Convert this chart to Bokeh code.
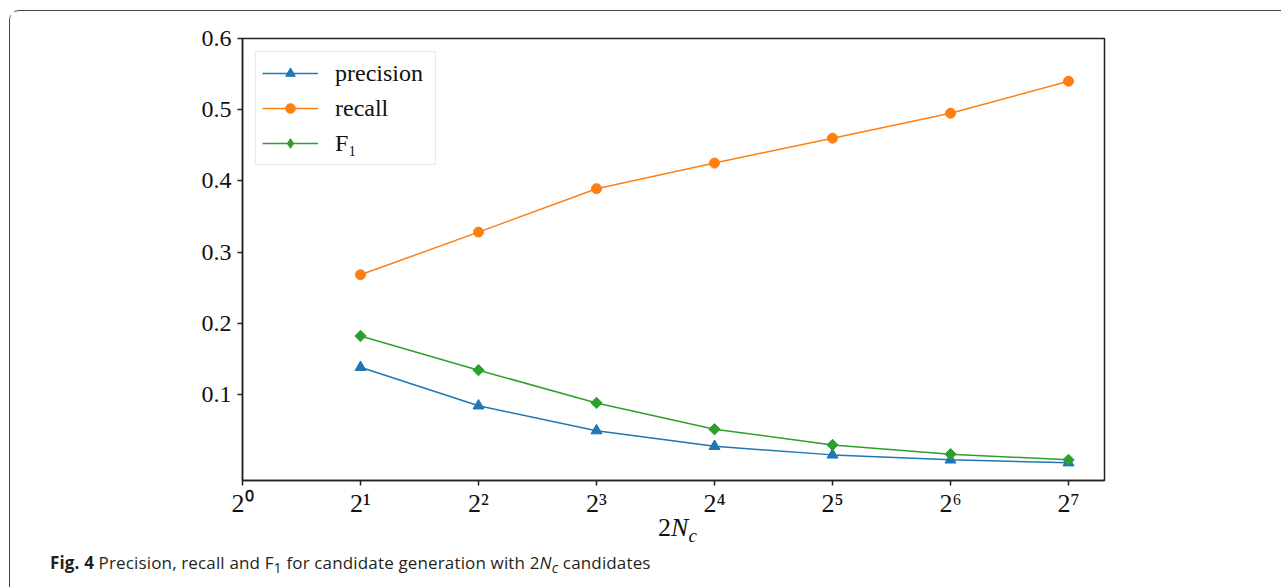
import math
from bokeh.plotting import figure
from bokeh.models import Range1d, FixedTicker, Div, Legend, LegendItem
from bokeh.layouts import column
from bokeh.embed import file_html
from bokeh.resources import INLINE

# ---------------- data ----------------
exponents = [1, 2, 3, 4, 5, 6, 7]
candidates = [2 ** e for e in exponents]          # 2N_c
precision = [0.138, 0.084, 0.049, 0.027, 0.015, 0.008, 0.004]
recall = [0.268, 0.328, 0.389, 0.425, 0.460, 0.495, 0.540]
f1 = [0.182, 0.134, 0.088, 0.051, 0.029, 0.016, 0.008]
series_names = ["precision", "recall", "F\u2081"]
series_colors = ["#1f77b4", "#ff7f0e", "#2ca02c"]

x_ticks = [1, 2, 4, 8, 16, 32, 64, 128]
x_tick_labels = ["2\u2070", "2\u00b9", "2\u00b2", "2\u00b3", "2\u2074", "2\u2075", "2\u2076", "2\u2077"]
y_ticks = [0.1, 0.2, 0.3, 0.4, 0.5, 0.6]
y_tick_labels = ["0.1", "0.2", "0.3", "0.4", "0.5", "0.6"]

# ---------------- figure ----------------
X_MAX = 2 ** 7.305
Y_MIN, Y_MAX = -0.021, 0.6
SERIF = "Liberation Serif"

p = figure(width=1265, height=512, x_axis_type="log",
           x_range=Range1d(1, X_MAX), y_range=Range1d(Y_MIN, Y_MAX),
           output_backend="svg", toolbar_location=None,
           min_border_left=232, min_border_right=171,
           min_border_top=27, min_border_bottom=43)
p.xgrid.visible = False
p.ygrid.visible = False
p.background_fill_color = "white"
p.border_fill_color = "white"
p.outline_line_color = "#222222"
p.outline_line_width = 1.5
p.outline_line_alpha = 1.0

for ax in (p.xaxis, p.yaxis):
    ax.axis_line_color = "#222222"
    ax.axis_line_width = 1.5
    ax.major_tick_line_color = "#222222"
    ax.major_tick_line_width = 1.5
    ax.major_tick_out = 5
    ax.major_tick_in = 0
    ax.minor_tick_line_color = None
    ax.major_label_text_font = SERIF
    ax.major_label_text_color = "#111111"

p.xaxis.ticker = FixedTicker(ticks=x_ticks)
p.xaxis.major_label_overrides = dict(zip(x_ticks, x_tick_labels))
p.xaxis.major_label_text_font_size = "26px"
p.xaxis.major_label_standoff = 3

p.yaxis.ticker = FixedTicker(ticks=y_ticks)
p.yaxis.major_label_overrides = dict(zip(y_ticks, y_tick_labels))
p.yaxis.major_label_text_font_size = "24px"
p.yaxis.major_label_standoff = 6

# series
series_values = [precision, recall, f1]
markers = [("triangle", 11, 0.0), ("circle", 10, 0.0), ("square", 8, math.pi / 4)]
legend_markers = ["triangle", "circle", "diamond"]
items = []
for name, vals, color, (mk, sz, ang), lmk in zip(series_names, series_values, series_colors,
                                                  markers, legend_markers):
    lr = p.line(candidates, vals, line_color=color, line_width=1.5)
    swatch = None
    if lmk != mk:
        # diamond swatch for the legend; hidden under the rotated squares on the plot
        swatch = p.scatter(candidates, vals, marker=lmk, size=9,
                           fill_color=color, line_color=color)
    sr = p.scatter(candidates, vals, marker=mk, size=sz, angle=ang,
                   fill_color=color, line_color=color)
    items.append(LegendItem(label=name, renderers=[lr, swatch if swatch is not None else sr]))

lg = Legend(items=items, location="top_left")
lg.margin = 13
lg.padding = 6
lg.spacing = 5
lg.glyph_width = 56
lg.glyph_height = 24
lg.label_height = 30
lg.label_width = 94
lg.label_standoff = 17
lg.label_text_font = SERIF
lg.label_text_font_size = "24px"
lg.label_text_color = "#111111"
lg.label_text_baseline = "middle"
lg.border_line_color = "#d5d5d5"
lg.border_line_width = 1
lg.background_fill_alpha = 0.85
p.add_layout(lg, "center")

# x-axis label 2N_c
axis_label = Div(
    text=("<div style=\"position:relative;top:-15px;width:1325px;text-align:center;"
          "font-family:'Liberation Serif';font-size:26px;line-height:30px;color:#111111;"
          "white-space:nowrap;\">2<i>N</i><sub style=\"font-size:19px;\"><i>c</i></sub></div>"),
    width=1265, height=25)

caption = Div(
    text=("<div style=\"position:relative;top:-11px;font-family:'Open Sans';font-size:17px;"
          "letter-spacing:0.15px;line-height:22px;color:#231f20;padding-left:35px;"
          "white-space:nowrap;\">"
          "<b>Fig. 4</b> Precision, recall and F<sub>1</sub> for candidate generation "
          "with 2<i>N<sub>c</sub></i> candidates</div>"),
    width=1265, height=38)

layout = column(p, axis_label, caption, width=1272, height=577, margin=(10, 0, 0, 9),
                styles={"border-left": "1.5px solid #444444",
                        "border-top": "1.5px solid #444444",
                        "border-top-left-radius": "10px",
                        "background-color": "white"})

open("out.html", "w").write(file_html(layout, INLINE))
